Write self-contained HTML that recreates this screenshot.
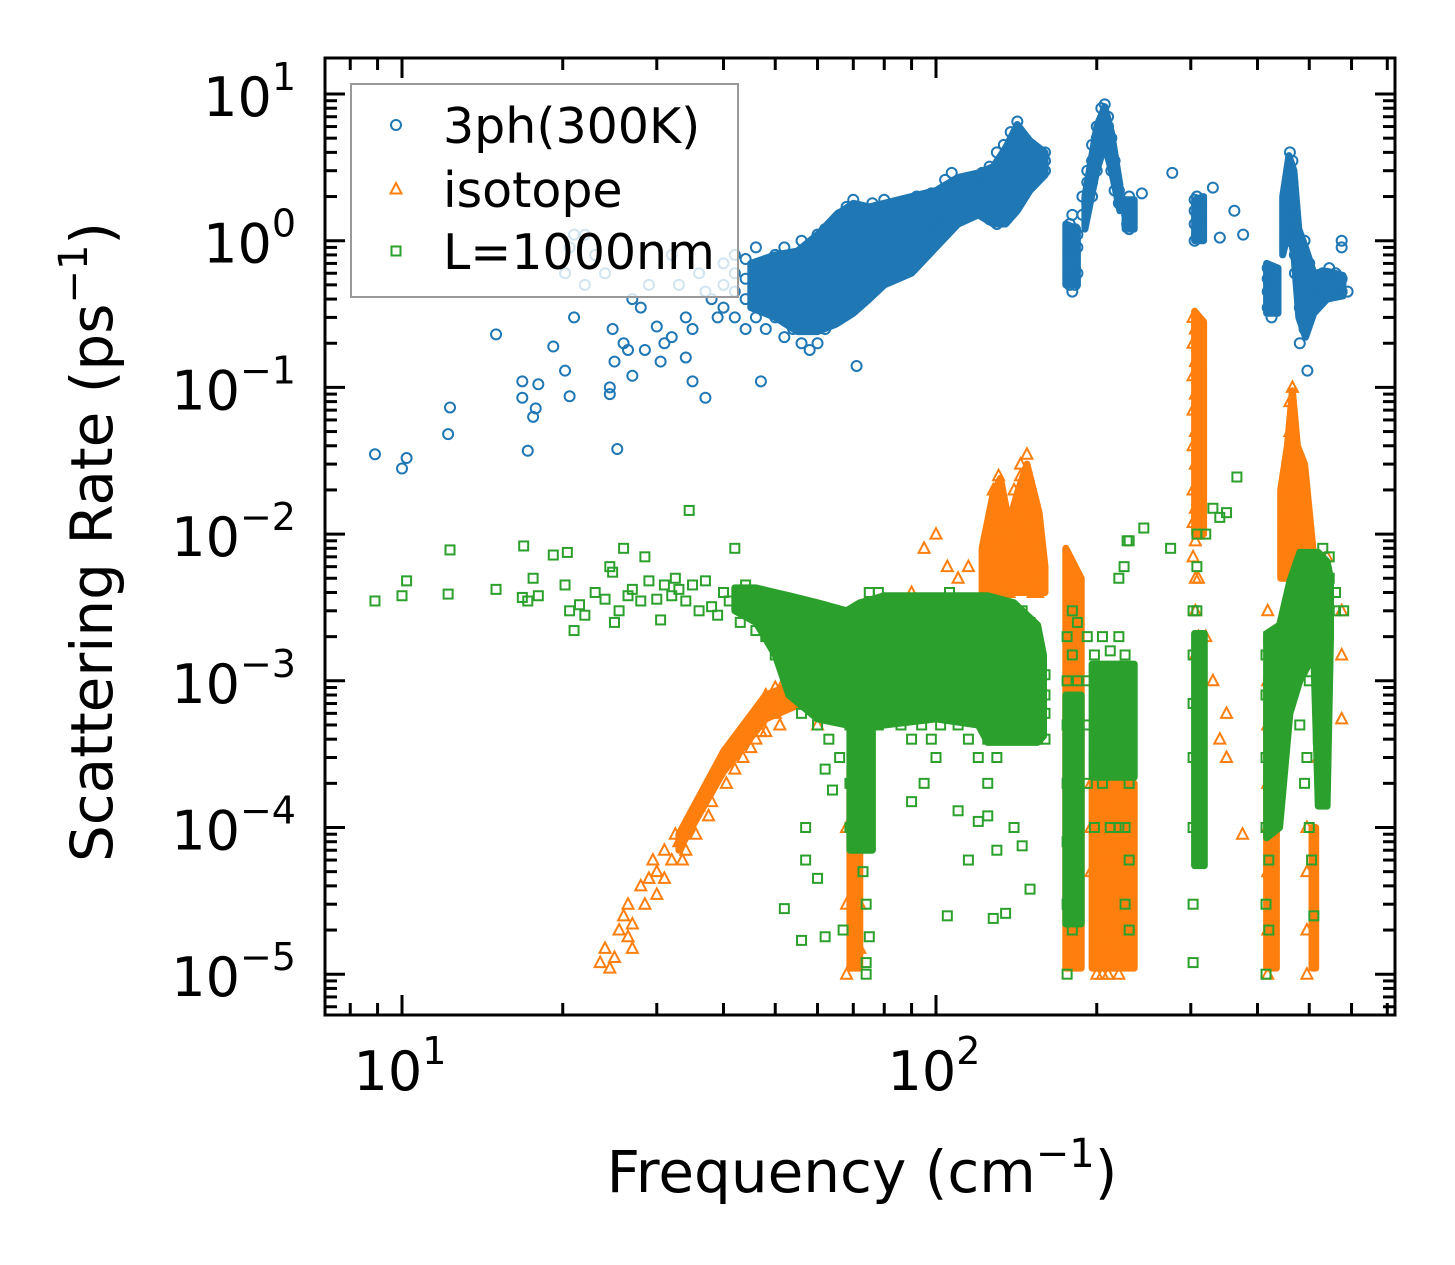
<!DOCTYPE html>
<html><head><meta charset="utf-8"><style>
html,body{margin:0;padding:0;background:#fff;}
svg{display:block;font-family:"DejaVu Sans","Liberation Sans",sans-serif;}
</style></head><body>
<svg id="chart" width="1455" height="1265" viewBox="0 0 1455 1265" xmlns="http://www.w3.org/2000/svg">
<rect width="1455" height="1265" fill="#fff"/>
<g id="marks"></g>
<g id="axes"></g>
<g id="legend"></g>
</svg>
<script>
// ---- data (frequency cm^-1, rate ps^-1); rows: [freq, rate, rate, ...]
const xTickValues = [10, 100];
const xTickLabels = ["1", "2"];
const yTickExps = [1, 0, -1, -2, -3, -4, -5];
const seriesNames = ["3ph(300K)", "isotope", "L=1000nm"];

const threePhRows = [
[8.9,0.035],[10,0.028],[10.2,0.033],[12.2,0.048],[12.3,0.073],[15,0.23],[16.8,0.11,0.085],[17.2,0.037],[17.6,0.063],[17.8,0.072],[18,0.105],[19.2,0.19],
[20.2,0.13,0.6],[20.6,0.087,0.9],[21,0.3,1.1],[22,0.5,1.1],[23,0.8],[24,0.6],[24.5,0.09,0.1],[24.8,0.25],[25,0.15],[25.3,0.038],[26,0.2],[26.5,0.18],[27,0.12,0.4],
[28,0.35],[28.5,0.18],[29,0.5],[30,0.26],[30.5,0.15],[31,0.2],[32,0.22,0.8],[33,0.5],[34,0.16,0.3],[35,0.11,0.25],[36,0.6],[37,0.085,0.45],[38,0.4],[39,0.3],
[40,0.35,0.5,0.7],[42,0.3,0.45,0.6,0.8],[44,0.25,0.4,0.55,0.75],[46,0.3,0.45,0.6,0.9],[47,0.11],[48,0.25,0.4,0.55,0.7],[50,0.3,0.45,0.6,0.8],
[52,0.22,0.35,0.5,0.7,0.9],[54,0.25,0.4,0.55,0.75],[56,0.2,0.3,0.45,0.6,0.8,1.0],[58,0.18,0.28,0.4,0.55,0.7,0.9],[60,0.2,0.3,0.45,0.6,0.8,1.1],
[62,0.25,0.35,0.5,0.7,0.9,1.2],[64,0.3,0.4,0.55,0.75,1.0,1.3],[66,0.3,0.45,0.6,0.8,1.1,1.5],[68,0.35,0.5,0.7,0.9,1.2,1.7],[70,0.4,0.55,0.75,1.0,1.3,1.9],
[71,0.14],[72,0.45,0.6,0.8,1.1,1.5],[74,0.5,0.65,0.85,1.2,1.6],[76,0.55,0.7,0.9,1.3,1.8],[78,0.6,0.8,1.0,1.4],[80,0.6,0.85,1.1,1.5,1.9],
[83,0.7,0.9,1.2,1.6],[86,0.75,1.0,1.3,1.8],[89,0.8,1.1,1.4,1.9],[92,0.9,1.2,1.5,2.0],[95,1.0,1.3,1.7],[98,1.1,1.4,1.8,2.1],[101,1.2,1.5,1.9],
[104,1.3,1.7,2.1,2.6],[107,1.4,1.8,2.3,2.9],[110,1.5,1.9,2.4],[114,1.6,2.0,2.5],[118,1.7,2.1,2.7],[122,1.8,2.3,2.9],[126,1.4,2.0,2.5,3.2],
[130,1.3,1.8,2.4,3.0,4.0],[134,1.5,2.2,3.0,4.5],[138,1.8,2.5,3.5,5.5],[142,2.0,2.8,4.0,6.5],[146,2.2,3.0,4.2],[150,2.5,3.2,4.5],[155,2.8,3.5,4.0],[160,3.0,3.5,4.0],
[178,0.5,0.6,0.8,1.0,1.3],[180,0.45,0.55,0.7,0.9,1.1,1.5],[182,0.5,0.65,0.85,1.2],[184,0.6,0.9,1.1],
[188,1.5,2.0],[192,1.8,2.5,3.0],[196,2.5,3.5,4.5,2.0],[200,3.0,4.0,5.0,6.0],[204,4,5,6.5,8],[207,5,6,7,8.5],[210,4,5,6,7],[213,3,4,5],[216,2.2,3,3.5],[220,1.8,2.2],
[228,1.3,1.5,1.8],[230,1.2,1.4,1.7,2.0],[232,1.3,1.6],[243,2.1],[277,2.9],
[305,1.0,1.3,1.6,1.9],[308,1.1,1.5,2.0],[330,2.3],[340,1.05],[362,1.6],[376,1.1],
[418,0.35,0.45,0.55,0.65],[425,0.3,0.4,0.5,0.6],
[455,1.0,1.5,2.0],[460,1.2,2.0,3.0,4.0],[465,1.0,1.5,2.5,3.5],[470,0.6,0.8,1.2],[480,0.2,0.35,0.5,0.8],[490,0.25,0.4,0.6,1.0],[496,0.13],
[500,0.3,0.45,0.7],[510,0.35,0.5],[520,0.4,0.55],[530,0.45,0.6],[545,0.5,0.65],[560,0.5,0.6],[575,0.45,0.55,1.0,0.9],[590,0.45]
];

const isotopeRows = [
[23.5,1.2e-5],[24,1.5e-5],[24.5,1.1e-5],[25,1.3e-5],[25.5,2e-5],[26,2.5e-5],[26.5,3e-5],[27,2.2e-5,1.5e-5],[28,4e-5],[29,4.5e-5],[29.5,6e-5],[30,5e-5,3.5e-5],
[31,7e-5],[32,6e-5],[32.5,9e-5],[33,8e-5],[34,1e-4,7e-5],[35,1.2e-4],[36,1.4e-4],[37,1.8e-4],[38,2.2e-4,1.5e-4],[39,2.5e-4],[40,3e-4],[41,3.5e-4],
[42,4e-4,2.5e-4],[43,4.5e-4],[44,5e-4],[45,5.5e-4,3.5e-4],[46,6e-4,4e-4],[47,7e-4],[48,8e-4,4.5e-4],[50,9e-4,6e-4],[52,1e-3],[53,7e-4],[55,1.1e-3],
[26.5,1.8e-5],[28.5,3e-5],[31,4.5e-5],[33.5,6e-5],[35.5,9e-5],[37.5,1.2e-4],[40.5,2e-4],[43.5,3e-4],[47,4.5e-4],[51,5e-4],
[60,5e-4,8e-4],[65,6e-4,1e-3],[68,1e-5,3e-5,1e-4],[70,2e-5,5e-5,2e-4],[72,1.5e-5,3e-5,1.2e-4],
[90,4e-3],[95,8e-3],[100,1e-2],[105,6e-3],[110,5e-3],[115,6e-3],
[125,3e-3,5e-3,8e-3],[128,4e-3,7e-3,0.012,0.02],[131,4e-3,6e-3,0.01,0.016,0.025],[134,5e-3,8e-3,0.012],[137,4e-3,6e-3,9e-3],
[140,5e-3,8e-3,0.013,0.02],[144,6e-3,0.01,0.016,0.025,0.03],[148,5e-3,8e-3,0.012,0.02,0.035],[152,4e-3,7e-3,0.01,0.015],[155,4e-3,6e-3],
[178,7e-3,5e-3,3e-3,1.5e-3,8e-4,3e-4,1e-4],
[195,2e-4,1e-4,5e-5],[200,3e-4,1.5e-4,8e-5,4e-5,2e-5,1e-5],[205,2e-4,1e-4,6e-5,3e-5,1.5e-5,1e-5],[210,1.5e-4,8e-5,4e-5,2e-5,1e-5],
[215,1e-4,6e-5,3e-5,1.5e-5],[220,8e-5,4e-5,2e-5,1e-5],[228,2e-4,8e-5,3e-5,1.5e-5],
[303,0.3,0.2,0.12,0.07,0.04,0.02,0.012,0.007],[306,0.25,0.15,0.09,0.05,0.03,0.015,0.009,0.005,3e-3,1.5e-3],[310,0.01,5e-3,2e-3],
[320,2e-3],[330,1e-3],[340,4e-4],[350,6e-4,3e-4],[375,9e-5],
[418,3e-3,1e-3,5e-4,2e-4,1e-4,5e-5,2e-5,1e-5],[422,2e-3,8e-4,3e-4,1e-4,4e-5,1.5e-5],
[450,8e-3,0.012],[455,0.01,0.02,0.03],[460,0.015,0.03,0.05,0.08],[465,0.01,0.02,0.04,0.1],[470,8e-3,0.015,0.025],[475,6e-3,0.01,0.02],
[480,5e-3,0.02],[490,3e-3,2e-3],[495,1e-4,5e-5,2e-5,1e-5],[520,1e-3,3e-4],[540,3e-3,7e-3],[575,5.5e-4,1.5e-3,3e-3]
];

const boundaryRows = [
[8.9,3.5e-3],[10,3.8e-3],[10.2,4.8e-3],[12.2,3.9e-3],[12.3,7.8e-3],[15,4.2e-3],[16.8,3.7e-3],[16.9,8.3e-3],[17.2,3.5e-3],[17.6,5e-3],[18,3.8e-3],[19.2,7.2e-3],
[20.2,4.5e-3],[20.4,7.5e-3],[20.6,3e-3],[21,2.2e-3],[21.5,3.3e-3],[22,2.8e-3],[23,4e-3],[24,3.6e-3],[24.5,6e-3],[24.8,5.5e-3],[25,2.5e-3],[25.5,3e-3],
[26,8e-3],[26.5,3.8e-3],[27,4.2e-3],[28,3.5e-3],[28.5,7e-3],[29,4.8e-3],[30,3.6e-3],[30.5,2.6e-3],[31,4.5e-3],[32,3.8e-3],[32.5,5e-3],[33,4.2e-3],
[34,3.5e-3],[34.5,0.0145],[35,4.5e-3],[36,3e-3],[37,4.8e-3],[38,3.2e-3],[39,2.8e-3],[40,4e-3],[41,3.5e-3],[42,8e-3],[43,2.5e-3],[44,4.5e-3],
[45,3e-3],[46,2.2e-3],[47,3.8e-3],[48,2e-3],
[50,1.5e-3,2.5e-3,3.5e-3],[53,1e-3,1.5e-3,2e-3,3e-3],[56,6e-4,9e-4,1.3e-3,2e-3,3e-3],[60,5e-4,8e-4,1.1e-3,1.6e-3,2.4e-3],
[63,4e-4,7e-4,1e-3,1.4e-3,2e-3,3e-3],[66,3e-4,6e-4,9e-4,1.3e-3,2e-3],[69,2e-4,1e-4,5e-4,8e-4,1.2e-3,1.8e-3],[72,1e-4,2e-4,4e-4,7e-4,1.1e-3,1.7e-3,2.5e-3],
[75,3e-4,6e-4,1e-3,1.6e-3,2.5e-3,4e-3],[78,5e-4,8e-4,1.2e-3,1.8e-3,2.8e-3,4e-3],[82,6e-4,9e-4,1.3e-3,2e-3,3e-3],[86,5e-4,8e-4,1.2e-3,1.8e-3,2.8e-3,3.5e-3],
[90,4e-4,7e-4,1.1e-3,1.7e-3,2.6e-3,3.5e-3],[94,5e-4,8e-4,1.2e-3,1.8e-3,2.8e-3],[98,4e-4,7e-4,1.1e-3,1.6e-3,2.5e-3,3.5e-3],[102,5e-4,8e-4,1.2e-3,1.8e-3,2.7e-3],
[106,6e-4,9e-4,1.3e-3,2e-3,3e-3,4e-3],[110,5e-4,8e-4,1.2e-3,1.8e-3,2.8e-3],[115,4e-4,7e-4,1e-3,1.5e-3,2.3e-3,3.5e-3],[120,3e-4,6e-4,9e-4,1.4e-3,2.2e-3,3.2e-3],
[125,2e-4,4e-4,7e-4,1.1e-3,1.7e-3,2.6e-3],[130,3e-4,5e-4,8e-4,1.3e-3,2e-3,3e-3],[135,4e-4,6e-4,9e-4,1.4e-3,2.1e-3],[140,5e-4,8e-4,1.2e-3,1.8e-3,2.7e-3],
[145,6e-4,9e-4,1.3e-3,2e-3,3e-3],[150,5e-4,8e-4,1.2e-3,1.7e-3,2.5e-3],[155,4e-4,6e-4,9e-4,1.3e-3,1.8e-3],[160,4e-4,6e-4,8e-4,1.1e-3],
[57,1e-4,6e-5],[60,4.5e-5],[62,2.5e-4,1.8e-5],[64,1.8e-4],[52,2.8e-5],[56,1.7e-5],[67,2e-5],[73,5e-5],[74,3e-5,1.2e-5,1e-5],[75,1.8e-5],
[90,1.5e-4],[95,2e-4],[100,3e-4],[105,2.5e-5],[110,1.3e-4],[115,6e-5],[120,1.1e-4],[125,1.2e-4],[128,2.4e-5],[130,7e-5],[135,2.6e-5],[140,1e-4],[145,7.5e-5],[150,3.8e-5],
[176,1e-5,3e-5,8e-5,2e-4,5e-4,1e-3,2e-3],[180,2e-5,5e-5,1e-4,3e-4,7e-4,1.5e-3,3e-3],[184,1e-4,4e-4,1e-3,2.5e-3],
[192,2e-4,5e-4,1e-3,2e-3],[198,1e-4,3e-4,7e-4,1.5e-3],[205,2e-4,5e-4,1e-3,2e-3],[212,1e-4,3e-4,8e-4,1.6e-3],[220,1e-4,4e-4,1e-3,2e-3,5e-3],
[225,6e-3],[226,3e-5,1e-4,3e-4,7e-4,1.5e-3],[228,9e-3],[230,2e-5,6e-5,2e-4,5e-4,1e-3,9e-3],[245,0.011],[275,8e-3],
[303,1.2e-5,3e-5,1e-4,3e-4,7e-4,1.5e-3,3e-3],[308,1e-4,3e-4,7e-4,1.5e-3,3e-3,6e-3,0.01],[320,0.01],[330,0.015],[340,0.013],[350,0.014],[366,0.0245],
[415,1e-5,3e-5,1e-4,3e-4,8e-4,1.5e-3],[420,2e-5,6e-5,2e-4,5e-4,1e-3,2e-3],[428,2e-4,5e-4,1e-3,2e-3],
[440,6e-4,1e-3,1.5e-3,2e-3],[455,8e-4,1.3e-3,2e-3,3e-3],[470,1e-3,1.8e-3,3e-3,4e-3],[485,1.2e-3,2e-3,3.5e-3,5e-3],[500,1e-3,2e-3,4e-3,6e-3],
[515,1.5e-3,3e-3,5e-3,7e-3],[530,2e-3,4e-3,6e-3,8e-3],[545,3e-3,5e-3,7e-3],[560,3e-3,4e-3],
[480,5e-4],[490,2e-4],[500,1e-4],[505,6e-5],[510,2.5e-5],[495,3e-4],[520,4e-4],[580,3e-3]
];

// dense-cluster envelopes: each cluster = rows of [freq, lowRate, highRate]
const threePhBands = [
 [[45,0.35,0.7],[50,0.3,0.8],[55,0.24,0.85],[60,0.24,1.1],[65,0.27,1.5],[70,0.32,1.8],[75,0.4,1.7],[80,0.5,1.8],[90,0.6,2.0],[100,0.9,2.2],[110,1.3,2.7],[120,1.5,2.9],[128,1.3,3.2],[135,1.3,4.3],[142,1.6,6.2],[150,2.2,4.8],[160,2.8,4.0]],
 [[175,0.5,1.3],[184,0.5,1.2]],
 [[190,1.2,2.0],[200,3,6],[207,4.5,8.2],[213,3,5.5],[221,1.6,2.4]],
 [[226,1.2,1.9],[235,1.2,1.9]],
 [[305,1.0,1.9],[317,1.0,2.0]],
 [[416,0.32,0.7],[437,0.32,0.65]],
 [[446,0.8,2],[458,1.2,3.8],[468,0.8,3],[478,0.3,1.2],[492,0.22,0.9],[510,0.32,0.6],[540,0.4,0.62],[578,0.42,0.58]]
];
const isotopeBands = [
 [[33,7e-5,9e-5],[40,2.4e-4,3.3e-4],[48,5.5e-4,8e-4],[56,7e-4,1e-3]],
 [[69,1.1e-5,2.5e-4],[72,1.1e-5,2.5e-4]],
 [[122,4e-3,8e-3],[128,4e-3,0.019],[132,4e-3,0.024],[137,4e-3,0.012],[142,4e-3,0.019],[148,4e-3,0.03],[156,4e-3,0.014],[160,4e-3,6e-3]],
 [[175,1.1e-5,8e-3],[187,1.1e-5,5e-3]],
 [[196,1.1e-5,2e-4],[235,1.1e-5,2e-4]],
 [[305,0.01,0.33],[317,0.01,0.28]],
 [[416,1.1e-5,1e-3],[434,1.1e-5,5e-4]],
 [[442,5e-3,0.02],[455,5e-3,0.04],[465,5e-3,0.095],[475,4e-3,0.04],[490,4e-3,0.03],[508,3e-3,0.008]],
 [[506,1.1e-5,1e-4],[514,1.1e-5,1e-4]]
];
const boundaryBands = [
 [[42,3e-3,4.3e-3],[46,2.5e-3,4.3e-3],[50,1.5e-3,4e-3],[53,8e-4,3.8e-3],[60,5.5e-4,3.4e-3],[68,5e-4,3e-3],[72,5e-4,3.4e-3],[80,5e-4,3.8e-3],[100,5.5e-4,3.8e-3],[120,5e-4,3.8e-3],[125,3.8e-4,3.8e-3],[140,3.8e-4,3.4e-3],[155,3.8e-4,2.4e-3],[159,4.2e-4,1.5e-3]],
 [[69,7e-5,1e-3],[76,7e-5,1e-3]],
 [[175,2.2e-5,8e-4],[187,2.2e-5,8e-4]],
 [[196,2.2e-4,1.3e-3],[235,2.2e-4,1.3e-3]],
 [[305,5.5e-5,2.1e-3],[318,5.5e-5,2.1e-3]],
 [[416,8.5e-5,2.1e-3],[440,1e-4,2.4e-3],[460,6e-4,4.8e-3],[480,1e-3,7.5e-3],[510,1.5e-3,7.5e-3],[520,1.4e-4,7.5e-3],[540,1.4e-4,6.5e-3],[548,2e-3,5e-3]]
];

// ---- axes geometry
const L = 325, R = 1395, T = 58, B = 1015;
const X10 = 402, XDEC = 534;
const Y1 = 94, YDEC = 146.7;
function xScale(f){ return X10 + (Math.log10(f) - 1) * XDEC; }
function yScale(r){ return Y1 + (1 - Math.log10(r)) * YDEC; }

const NS = "http://www.w3.org/2000/svg";
function mk(tag, attrs, parent){
  const e = document.createElementNS(NS, tag);
  for (const k in attrs) e.setAttribute(k, attrs[k]);
  parent.appendChild(e);
  return e;
}
const marks = document.getElementById('marks');
const axes = document.getElementById('axes');
const legend = document.getElementById('legend');

function drawMarker(kind, cx, cy, parent, color){
  let el;
  if (kind === 'circle') {
    el = mk('circle', {cx: cx, cy: cy, r: 5, fill: 'none', stroke: color, 'stroke-width': 2}, parent);
  } else if (kind === 'tri') {
    el = mk('polygon', {points: `${cx},${cy-6} ${cx-5.5},${cy+4.5} ${cx+5.5},${cy+4.5}`, fill: 'none', stroke: color, 'stroke-width': 2}, parent);
  } else {
    el = mk('rect', {x: cx-4.5, y: cy-4.5, width: 9, height: 9, fill: 'none', stroke: color, 'stroke-width': 2}, parent);
  }
  return el;
}

const seriesDefs = [
  {rows: threePhRows, bands: threePhBands, kind: 'circle', color: '#1f77b4', name: 'series-3ph'},
  {rows: isotopeRows, bands: isotopeBands, kind: 'tri', color: '#ff7f0e', name: 'series-isotope'},
  {rows: boundaryRows, bands: boundaryBands, kind: 'square', color: '#2ca02c', name: 'series-boundary'}
];
const clip = mk('clipPath', {id: 'plotclip'}, marks);
mk('rect', {x: L, y: T, width: R-L, height: B-T}, clip);
seriesDefs.forEach(s => {
  const g = mk('g', {'clip-path': 'url(#plotclip)'}, marks);
  
  
  s.bands.forEach(band => {
    const top = band.map(r => `${xScale(r[0]).toFixed(1)},${yScale(r[2]).toFixed(1)}`);
    const bot = band.slice().reverse().map(r => `${xScale(r[0]).toFixed(1)},${yScale(r[1]).toFixed(1)}`);
    const p = mk('polygon', {points: top.concat(bot).join(' '), fill: s.color, stroke: s.color, 'stroke-width': 7, 'stroke-linejoin': 'round'}, g);
    
    
  });
  s.rows.forEach(row => {
    const f = row[0];
    for (let i = 1; i < row.length; i++) {
      const p = drawMarker(s.kind, xScale(f), yScale(row[i]), g, s.color);
      
      
    }
  });
});

// ---- frame
const frame = mk('rect', {x: L, y: T, width: R-L, height: B-T, fill: 'none', stroke: '#000', 'stroke-width': 3}, axes);



const fmin = Math.pow(10, 1 + (L - X10) / XDEC), fmax = Math.pow(10, 1 + (R - X10) / XDEC);
for (let d = 0; d <= 2; d++) {
  for (let m = 1; m <= 9; m++) {
    const f = m * Math.pow(10, d);
    if (f < fmin || f > fmax) continue;
    const x = xScale(f), len = m === 1 ? 20 : 12;
    mk('line', {x1: x, x2: x, y1: B, y2: B - len, stroke: '#000', 'stroke-width': 3}, axes);
    mk('line', {x1: x, x2: x, y1: T, y2: T + len, stroke: '#000', 'stroke-width': 3}, axes);
  }
}
xTickValues.forEach((v, i) => {
  const t = mk('text', {x: xScale(v) - 2, y: 1090, 'font-size': 54, 'text-anchor': 'middle'}, axes);
  
  
  t.textContent = '10';
  const s = mk('tspan', {dy: -26, 'font-size': 38}, t);
  s.textContent = xTickLabels[i];
});
for (let e = -6; e <= 1; e++) {
  for (let m = 1; m <= 9; m++) {
    const r = m * Math.pow(10, e);
    const y = yScale(r);
    if (y < T || y > B) continue;
    const len = m === 1 ? 20 : 12;
    mk('line', {x1: L, x2: L + len, y1: y, y2: y, stroke: '#000', 'stroke-width': 3}, axes);
    mk('line', {x1: R, x2: R - len, y1: y, y2: y, stroke: '#000', 'stroke-width': 3}, axes);
  }
}
yTickExps.forEach(e => {
  const y = yScale(Math.pow(10, e));
  const t = mk('text', {x: 296, y: y + 22, 'font-size': 54, 'text-anchor': 'end'}, axes);
  
  
  t.textContent = '10';
  const s = mk('tspan', {dy: -26, 'font-size': 38}, t);
  s.textContent = e < 0 ? '\u2212' + (-e) : String(e);
});
const xt = mk('text', {x: 862, y: 1192, 'font-size': 58, 'text-anchor': 'middle'}, axes);


xt.textContent = 'Frequency (cm';
mk('tspan', {dy: -25, 'font-size': 40}, xt).textContent = '\u22121';
mk('tspan', {dy: 25}, xt).textContent = ')';
const yt = mk('text', {x: 0, y: 0, 'font-size': 58, 'text-anchor': 'middle', transform: 'translate(112,542) rotate(-90)'}, axes);


yt.textContent = 'Scattering Rate (ps';
mk('tspan', {dy: -25, 'font-size': 40}, yt).textContent = '\u22121';
mk('tspan', {dy: 25}, yt).textContent = ')';

const lb = mk('rect', {x: 351, y: 84, width: 387, height: 213, fill: 'rgba(255,255,255,0.8)', stroke: '#999', 'stroke-width': 2}, legend);


const rowsY = [125, 189, 251];
seriesDefs.forEach((s, i) => {
  const g = mk('g', {}, legend);
  
  
  drawMarker(s.kind, 396, rowsY[i], g, s.color);
  const t = mk('text', {x: 443, y: rowsY[i] + 18, 'font-size': 49}, g);
  t.textContent = seriesNames[i];
});
</script>
</body></html>
